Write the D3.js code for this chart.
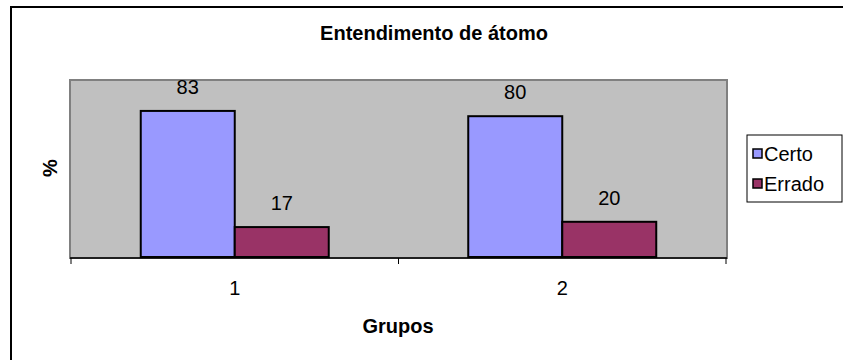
<!DOCTYPE html>
<html>
<head>
<meta charset="utf-8">
<script src="https://cdn.jsdelivr.net/npm/d3@7"></script>
<style>
  body { margin: 0; background: #fff; }
  svg { display: block; font-family: "Liberation Sans", Arial, sans-serif; }
</style>
</head>
<body>
<div id="chart"></div>
<script>
// data
var grupos = ["1", "2"];
var series = ["Certo", "Errado"];
var certo = [83, 80];
var errado = [17, 20];
var colors = ["#9999FF", "#993366"];

var width = 843, height = 360;

var svg = d3.select("#chart").append("svg")
  .attr("width", width)
  .attr("height", height);

// outer chart frame (runs off the bottom/right edge)
svg.append("rect")
  .attr("x", 11).attr("y", 7)
  .attr("width", 900).attr("height", 400)
  .attr("fill", "#fff")
  .attr("stroke", "#000")
  .attr("stroke-width", 2);

var plot = { left: 70, right: 727, top: 80, bottom: 258 };

// plot area background
svg.append("rect")
  .attr("x", plot.left).attr("y", plot.top)
  .attr("width", plot.right - plot.left)
  .attr("height", plot.bottom - plot.top)
  .attr("fill", "#C0C0C0")
  .attr("stroke", "#808080")
  .attr("stroke-width", 2);

var x0 = d3.scaleBand().domain(grupos).range([71, 726]).padding(0);
var x1 = d3.scaleBand().domain(series).range([0, x0.bandwidth()])
  .paddingInner(0).paddingOuter(0.742);
var y = d3.scaleLinear().domain([0, 100]).range([257, 81]);

var rows = grupos.map(function(g, i) {
  return { grupo: g, values: [certo[i], errado[i]] };
});

var groups = svg.selectAll(".grupo")
  .data(rows)
  .enter().append("g")
  .attr("transform", function(d) { return "translate(" + x0(d.grupo) + ",0)"; });

groups.selectAll("rect")
  .data(function(d) { return d.values.map(function(v, j) { return { s: series[j], v: v, j: j }; }); })
  .enter().append("rect")
  .attr("x", function(d) { return x1(d.s); })
  .attr("y", function(d) { return y(d.v); })
  .attr("width", x1.bandwidth())
  .attr("height", function(d) { return y(0) - y(d.v); })
  .attr("fill", function(d) { return colors[d.j]; })
  .attr("stroke", "#000")
  .attr("stroke-width", 2);

groups.selectAll("text.val")
  .data(function(d) { return d.values.map(function(v, j) { return { s: series[j], v: v }; }); })
  .enter().append("text")
  .attr("class", "val")
  .attr("x", function(d) { return x1(d.s) + x1.bandwidth() / 2; })
  .attr("y", function(d) { return y(d.v) - 17; })
  .attr("text-anchor", "middle")
  .attr("font-size", 20)
  .text(function(d) { return d.v; });

// x axis
var xAxis = d3.axisBottom(x0).tickSize(0).tickPadding(0);
var ax = svg.append("g")
  .attr("transform", "translate(0,258)")
  .call(xAxis);
ax.select(".domain").attr("stroke", "#000").attr("stroke-width", 1.5)
  .attr("d", "M70,0H727");
ax.selectAll("text").attr("font-size", 20).attr("fill", "#000")
  .attr("font-family", "Liberation Sans, Arial, sans-serif")
  .attr("dy", null).attr("y", 37);
// tick marks at group boundaries
var bounds = [x0("1"), x0("2"), x0("2") + x0.bandwidth()];
ax.selectAll("line.bound")
  .data(bounds)
  .enter().append("line")
  .attr("class", "bound")
  .attr("x1", function(d) { return d; }).attr("x2", function(d) { return d; })
  .attr("y1", 0).attr("y2", 6)
  .attr("stroke", "#000");

// titles
svg.append("text")
  .attr("x", 434).attr("y", 40)
  .attr("text-anchor", "middle")
  .attr("font-size", 20).attr("font-weight", "bold")
  .text("Entendimento de átomo");

svg.append("text")
  .attr("x", 398).attr("y", 333)
  .attr("text-anchor", "middle")
  .attr("font-size", 20).attr("font-weight", "bold")
  .text("Grupos");

svg.append("text")
  .attr("transform", "translate(57,168) rotate(-90)")
  .attr("text-anchor", "middle")
  .attr("font-size", 20).attr("font-weight", "bold")
  .text("%");

// legend
var legend = svg.append("g");
legend.append("rect")
  .attr("x", 747).attr("y", 135)
  .attr("width", 95).attr("height", 67)
  .attr("fill", "#fff")
  .attr("stroke", "#000").attr("stroke-width", 1);

var items = legend.selectAll(".item")
  .data(series)
  .enter().append("g")
  .attr("transform", function(d, i) { return "translate(753," + (149 + i * 30) + ")"; });
items.append("rect")
  .attr("width", 9).attr("height", 9)
  .attr("fill", function(d, i) { return colors[i]; })
  .attr("stroke", "#000").attr("stroke-width", 1.5);
items.append("text")
  .attr("x", 11).attr("y", 12)
  .attr("font-size", 20)
  .text(function(d) { return d; });
</script>
</body>
</html>
